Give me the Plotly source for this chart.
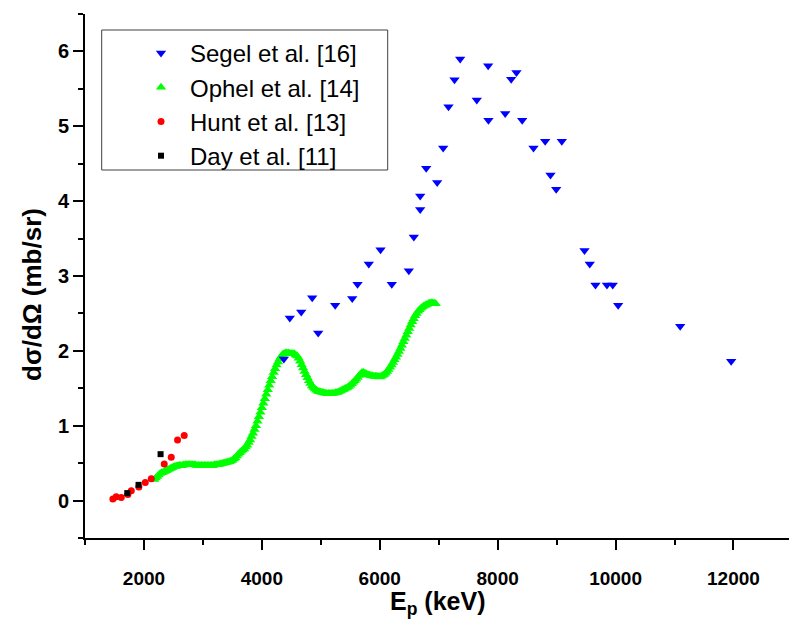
import plotly.graph_objects as go

# ---- Data ----
segel_E = [4373, 4474, 4668, 4854, 4956, 5244, 5533, 5623, 5814, 6013, 6204, 6493,
           6578, 6686, 6686, 6788, 6974, 7076, 7166, 7268, 7364, 7646, 7839, 7844,
           8128, 8229, 8319, 8416, 8608, 8806, 8896, 8993, 9088, 9473, 9562, 9659,
           9854, 9952, 10044, 11096, 11961]
segel_y = [1.89, 2.44, 2.52, 2.71, 2.24, 2.61, 2.70, 2.89, 3.16, 3.35, 2.89, 3.07,
           3.52, 3.89, 4.07, 4.44, 4.25, 4.71, 5.26, 5.62, 5.90, 5.35, 5.81, 5.08,
           5.17, 5.63, 5.72, 5.08, 4.71, 4.80, 4.35, 4.16, 4.80, 3.34, 3.16, 2.88,
           2.88, 2.88, 2.61, 2.33, 1.86]

ophel_E = [2175, 2200, 2225, 2250, 2275, 2300, 2325, 2350, 2375, 2400, 2425, 2450,
           2475, 2500, 2525, 2550, 2575, 2600, 2625, 2650, 2675, 2700, 2725, 2750,
           2775, 2800, 2825, 2850, 2875, 2900, 2925, 2950, 2975, 3000, 3025, 3050,
           3075, 3100, 3125, 3150, 3175, 3200, 3225, 3250, 3275, 3300, 3325, 3350,
           3375, 3400, 3425, 3450, 3475, 3500, 3525, 3550, 3575, 3600, 3625, 3650,
           3675, 3700, 3725, 3750, 3775, 3800, 3825, 3850, 3875, 3900, 3925, 3950,
           3975, 4000, 4025, 4050, 4075, 4100, 4125, 4150, 4175, 4200, 4225, 4250,
           4275, 4300, 4325, 4350, 4375, 4400, 4425, 4450, 4475, 4500, 4525, 4550,
           4575, 4600, 4625, 4650, 4675, 4700, 4725, 4750, 4775, 4800, 4825, 4850,
           4875, 4900, 4925, 4950, 4975, 5000, 5025, 5050, 5075, 5100, 5125, 5150,
           5175, 5200, 5225, 5250, 5275, 5300, 5325, 5350, 5375, 5400, 5425, 5450,
           5475, 5500, 5525, 5550, 5575, 5600, 5625, 5650, 5675, 5700, 5725, 5750,
           5775, 5800, 5825, 5850, 5875, 5900, 5925, 5950, 5975, 6000, 6025, 6050,
           6075, 6100, 6125, 6150, 6175, 6200, 6225, 6250, 6275, 6300, 6325, 6350,
           6375, 6400, 6425, 6450, 6475, 6500, 6525, 6550, 6575, 6600, 6625, 6650,
           6675, 6700, 6725, 6750, 6775, 6800, 6825, 6850, 6875, 6900, 6925, 6950]
ophel_y = [0.28, 0.30, 0.32, 0.34, 0.36, 0.37, 0.38, 0.39, 0.40, 0.41, 0.42, 0.43,
           0.44, 0.45, 0.455, 0.46, 0.465, 0.47, 0.47, 0.47, 0.475, 0.48, 0.48, 0.48,
           0.48, 0.48, 0.48, 0.48, 0.475, 0.47, 0.47, 0.47, 0.47, 0.47, 0.47, 0.47,
           0.47, 0.47, 0.47, 0.47, 0.47, 0.48, 0.48, 0.48, 0.485, 0.49, 0.495, 0.50,
           0.505, 0.51, 0.515, 0.52, 0.53, 0.54, 0.555, 0.57, 0.595, 0.62, 0.64, 0.66,
           0.675, 0.69, 0.715, 0.74, 0.775, 0.81, 0.855, 0.90, 0.95, 1.00, 1.06, 1.12,
           1.18, 1.24, 1.30, 1.36, 1.42, 1.48, 1.54, 1.60, 1.655, 1.71, 1.76, 1.81,
           1.85, 1.89, 1.92, 1.95, 1.96, 1.97, 1.97, 1.97, 1.965, 1.96, 1.96, 1.96,
           1.945, 1.93, 1.90, 1.86, 1.815, 1.77, 1.725, 1.68, 1.64, 1.60, 1.565, 1.53,
           1.51, 1.49, 1.475, 1.46, 1.455, 1.45, 1.445, 1.44, 1.435, 1.43, 1.43, 1.43,
           1.43, 1.43, 1.435, 1.44, 1.445, 1.45, 1.46, 1.47, 1.48, 1.49, 1.50, 1.51,
           1.525, 1.54, 1.56, 1.58, 1.60, 1.62, 1.645, 1.67, 1.69, 1.71, 1.71, 1.70,
           1.69, 1.68, 1.675, 1.67, 1.665, 1.66, 1.66, 1.66, 1.655, 1.65, 1.66, 1.67,
           1.685, 1.70, 1.725, 1.75, 1.78, 1.81, 1.845, 1.88, 1.915, 1.95, 1.99, 2.03,
           2.075, 2.12, 2.165, 2.21, 2.255, 2.30, 2.345, 2.39, 2.43, 2.47, 2.50, 2.53,
           2.55, 2.57, 2.585, 2.60, 2.61, 2.62, 2.63, 2.64, 2.64, 2.64, 2.635, 2.63]

hunt_E = [1473, 1530, 1615, 1727, 1785, 1914, 2022, 2124, 2344, 2463, 2570, 2683]
hunt_y = [0.02, 0.05, 0.04, 0.08, 0.13, 0.18, 0.24, 0.29, 0.49, 0.58, 0.81, 0.87]

day_E = [1717, 1908, 2282]
day_y = [0.10, 0.21, 0.62]

names = ["Segel et al. [16]", "Ophel et al. [14]", "Hunt et al. [13]", "Day et al. [11]"]

FONT = "Liberation Sans, Arial, sans-serif"

fig = go.Figure()
fig.add_trace(go.Scatter(x=ophel_E, y=ophel_y, mode="markers", name=names[1], legendrank=2,
                         marker=dict(symbol="triangle-up", size=9, color="#00FF00", line=dict(width=0))))
fig.add_trace(go.Scatter(x=hunt_E, y=hunt_y, mode="markers", name=names[2], legendrank=3,
                         marker=dict(symbol="circle", size=7, color="#FF0000", line=dict(width=0))))
fig.add_trace(go.Scatter(x=day_E, y=day_y, mode="markers", name=names[3], legendrank=4,
                         marker=dict(symbol="square", size=6, color="#000000", line=dict(width=0))))
fig.add_trace(go.Scatter(x=segel_E, y=segel_y, mode="markers", name=names[0], legendrank=1,
                         marker=dict(symbol="triangle-down", size=9, color="#0000FF", line=dict(width=0))))

L, T, B = 85, 14, 87
PW, PH = 789 - L, 625 - T - B

def px_x(px):
    return (px - L) / PW

def px_y(py):
    return (625 - B - py) / PH

fig.update_layout(
    width=789, height=625,
    margin=dict(l=L, r=0, t=T, b=B, pad=0),
    paper_bgcolor="white", plot_bgcolor="white",
    showlegend=True,
    legend=dict(x=px_x(132), y=px_y(31), xanchor="left", yanchor="top",
                bgcolor="rgba(0,0,0,0)", borderwidth=0, itemwidth=48,
                font=dict(family=FONT, size=24, color="black"),
                traceorder="normal"),
    xaxis=dict(range=[1000, 12942], tick0=0, dtick=2000, tickformat="d",
               showgrid=False, zeroline=False,
               showline=True, linecolor="black", linewidth=2,
               ticks="outside", ticklen=10, tickwidth=2, tickcolor="black",
               ticklabelstandoff=12,
               tickfont=dict(family=FONT, size=19, color="black", weight="bold"),
               minor=dict(dtick=1000, tick0=0, ticks="outside", ticklen=5, tickwidth=2,
                          tickcolor="black", showgrid=False)),
    yaxis=dict(range=[-0.5, 6.5], tick0=0, dtick=1, showgrid=False, zeroline=False,
               showline=True, linecolor="black", linewidth=2,
               ticks="outside", ticklen=10, tickwidth=2, tickcolor="black",
               tickfont=dict(family=FONT, size=20, color="black", weight="bold"),
               minor=dict(dtick=0.5, tick0=0, ticks="outside", ticklen=5, tickwidth=2,
                          tickcolor="black", showgrid=False)),
    shapes=[dict(type="rect", xref="paper", yref="paper",
                 x0=px_x(101.7), x1=px_x(387.7), y0=px_y(170), y1=px_y(30),
                 line=dict(color="#404040", width=1), fillcolor="rgba(0,0,0,0)", layer="below")],
    annotations=[
        dict(text="E<sub>p</sub> (keV)", xref="paper", yref="paper", x=0.5, y=px_y(603),
             xanchor="center", yanchor="middle", showarrow=False,
             font=dict(family=FONT, size=25, color="black", weight="bold")),
        dict(text="dσ/dΩ (mb/sr)", xref="paper", yref="paper", x=px_x(32), y=px_y(295),
             xanchor="center", yanchor="middle", showarrow=False, textangle=-90,
             font=dict(family=FONT, size=26, color="black", weight="bold")),
    ],
)

fig.write_html("out.html")
